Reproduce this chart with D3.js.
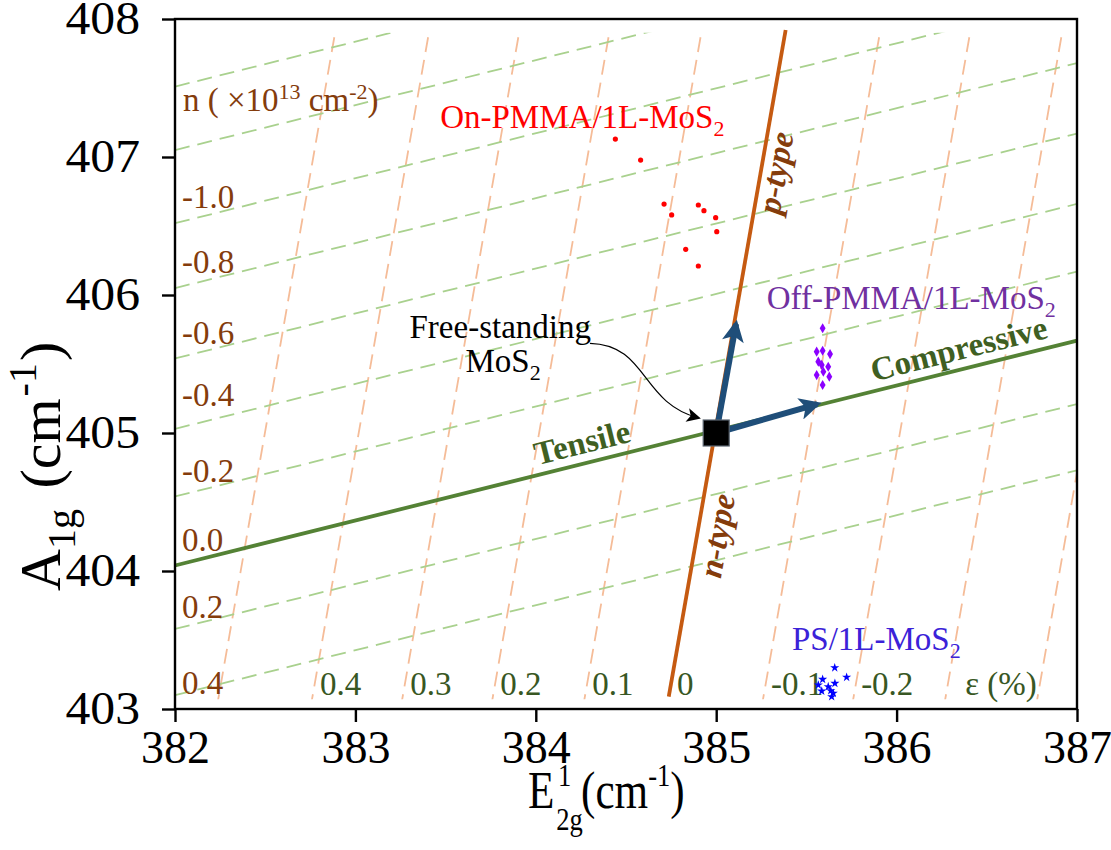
<!DOCTYPE html>
<html>
<head>
<meta charset="utf-8">
<script src="https://cdn.jsdelivr.net/npm/d3@7/dist/d3.min.js"></script>
<style>
body { margin: 0; background: #fff; }
text { font-family: "Liberation Serif", "Times New Roman", serif; }
</style>
</head>
<body>
<svg id="chart" width="1111" height="850"></svg>
<script>
// axis ticks
var xTicks = [382, 383, 384, 385, 386, 387];
var yTicks = [403, 404, 405, 406, 407, 408];

// the two reference lines (E, A) and the free-standing point
var strainLine = [[382, 404.04], [387, 405.67]];
var dopingLine = [[384.737, 403.09], [385.385, 407.92]];
var freeStanding = [385, 405];
var strainArrowTip = [385.56, 405.21];
var dopingArrowTip = [385.11, 405.79];

// iso-strain grid (E where each line meets A = 403), solid line included
var isoStrainE = [382.23, 382.75, 383.25, 383.75, 384.26, 384.73, 385.25, 385.75, 386.26, 386.77];
var strainLabels = ["", "0.4", "0.3", "0.2", "0.1", "0", "-0.1", "-0.2", "\u03b5 (%)", ""];

// iso-doping grid (A where each line meets E = 382), solid line included
var isoDopingA = [407.51, 407.05, 406.52, 406.05, 405.54, 405.03, 404.54, 404.04, 403.58, 403.10];
var dopingLabels = ["", "", "-1.0", "-0.8", "-0.6", "-0.4", "-0.2", "0.0", "0.2", "0.4"];

var onPMMA = [
  [384.441, 407.130], [384.581, 406.978], [384.711, 406.659], [384.753, 406.580],
  [384.901, 406.652], [384.932, 406.611], [384.997, 406.560], [385.003, 406.459],
  [384.831, 406.331], [384.901, 406.210]
];
var offPMMA = [
  [385.590, 405.759], [385.557, 405.589], [385.590, 405.596], [385.631, 405.572],
  [385.566, 405.517], [385.585, 405.493], [385.621, 405.480], [385.557, 405.420],
  [385.594, 405.444], [385.627, 405.408], [385.590, 405.348]
];
var psMoS2 = [
  [385.657, 403.299], [385.723, 403.230], [385.590, 403.215], [385.566, 403.174],
  [385.658, 403.186], [385.621, 403.162], [385.585, 403.130], [385.635, 403.133],
  [385.649, 403.114], [385.640, 403.089]
];

var margin = {left: 175, right: 34, top: 19, bottom: 141};
var W = 1111, H = 850;
var svg = d3.select("#chart");

var x = d3.scaleLinear().domain([382, 387]).range([margin.left, W - margin.right]);
var y = d3.scaleLinear().domain([403, 408]).range([H - margin.bottom, margin.top]);

var strainSlope = (strainLine[1][1] - strainLine[0][1]) / (strainLine[1][0] - strainLine[0][0]);
var dopingSlope = (dopingLine[1][1] - dopingLine[0][1]) / (dopingLine[1][0] - dopingLine[0][0]);

var defs = svg.append("defs");
defs.append("clipPath").attr("id", "gridclip")
  .append("rect")
  .attr("x", x(382)).attr("y", y(407.9))
  .attr("width", x(387) - x(382)).attr("height", y(403.07) - y(407.9));
defs.append("clipPath").attr("id", "plotclip")
  .append("rect")
  .attr("x", x(382)).attr("y", y(408))
  .attr("width", x(387) - x(382)).attr("height", y(403) - y(408));

function arrowMarker(id, color, w, h) {
  defs.append("marker")
    .attr("id", id)
    .attr("viewBox", "0 0 10 10")
    .attr("refX", 8).attr("refY", 5)
    .attr("markerUnits", "userSpaceOnUse")
    .attr("markerWidth", w).attr("markerHeight", h)
    .attr("orient", "auto")
    .append("path")
    .attr("d", "M0,0 L10,5 L0,10 L2.5,5 Z")
    .attr("fill", color);
}
arrowMarker("bluehead", "#1f4e79", 24, 22);
arrowMarker("blackhead", "#000", 16, 14);

// grid
var grid = svg.append("g").attr("clip-path", "url(#gridclip)");
grid.selectAll("line.iso-strain")
  .data(isoStrainE.filter(function(d, i) { return strainLabels[i] !== "0"; }))
  .enter().append("line")
  .attr("class", "iso-strain")
  .attr("x1", function(d) { return x(d); })
  .attr("y1", y(403))
  .attr("x2", function(d) { return x(d + 5 / dopingSlope); })
  .attr("y2", y(408))
  .attr("stroke", "#f5bc98")
  .attr("stroke-width", 1.8)
  .attr("stroke-dasharray", "15,8");

grid.selectAll("line.iso-doping")
  .data(isoDopingA.filter(function(d, i) { return dopingLabels[i] !== "0.0"; }))
  .enter().append("line")
  .attr("class", "iso-doping")
  .attr("x1", x(382))
  .attr("y1", function(d) { return y(d); })
  .attr("x2", x(387))
  .attr("y2", function(d) { return y(d + 5 * strainSlope); })
  .attr("stroke", "#a9d18e")
  .attr("stroke-width", 1.8)
  .attr("stroke-dasharray", "15,8");

// grid labels
var nLabelShift = {"-0.4": -8, "0.2": 4, "0.4": 14};
svg.append("g").selectAll("text")
  .data(isoDopingA.map(function(d, i) { return {a: d, t: dopingLabels[i]}; }).filter(function(d) { return d.t; }))
  .enter().append("text")
  .attr("x", x(382) + 7)
  .attr("y", function(d) { return y(d.a + 0.04 * strainSlope) - 13 + (nLabelShift[d.t] || 0); })
  .attr("font-size", 33)
  .attr("fill", "#843c0c")
  .text(function(d) { return d.t; });

var nTitle = svg.append("text")
  .attr("x", x(382) + 8).attr("y", 111)
  .attr("font-size", 33)
  .attr("fill", "#843c0c");
nTitle.append("tspan").text("n ( \u00d710");
nTitle.append("tspan").attr("font-size", 22).attr("dy", -12).text("13");
nTitle.append("tspan").attr("dy", 12).text(" cm");
nTitle.append("tspan").attr("font-size", 22).attr("dy", -12).text("-2");
nTitle.append("tspan").attr("dy", 12).text(")");

svg.append("g").selectAll("text")
  .data(isoStrainE.map(function(d, i) { return {e: d, t: strainLabels[i]}; }).filter(function(d) { return d.t; }))
  .enter().append("text")
  .attr("x", function(d) { return x(d.e + (403.15 - 403) / dopingSlope) + (d.t === "\u03b5 (%)" ? 18 : 6); })
  .attr("y", y(403.07) - 4)
  .attr("font-size", 33)
  .attr("fill", "#385723")
  .text(function(d) { return d.t; });

// solid reference lines
var line = d3.line().x(function(d) { return x(d[0]); }).y(function(d) { return y(d[1]); });
svg.append("path").datum(strainLine).attr("d", line)
  .attr("fill", "none").attr("stroke", "#548235").attr("stroke-width", 3.8);
svg.append("path").datum(dopingLine).attr("d", line)
  .attr("fill", "none").attr("stroke", "#c55a11").attr("stroke-width", 3.8);

// blue arrows
[strainArrowTip, dopingArrowTip].forEach(function(tip) {
  svg.append("line")
    .attr("x1", x(freeStanding[0])).attr("y1", y(freeStanding[1]))
    .attr("x2", x(tip[0])).attr("y2", y(tip[1]))
    .attr("stroke", "#1f4e79").attr("stroke-width", 6)
    .attr("marker-end", "url(#bluehead)");
});

// free-standing point
svg.append("rect")
  .attr("x", x(freeStanding[0]) - 13).attr("y", y(freeStanding[1]) - 13)
  .attr("width", 26).attr("height", 26)
  .attr("fill", "#000").attr("stroke", "#5a6470").attr("stroke-width", 1.2);

// line labels
function rotLabel(e, a, angle, txt, color, style) {
  svg.append("text")
    .attr("transform", "translate(" + x(e) + "," + y(a) + ") rotate(" + angle + ")")
    .attr("text-anchor", "middle")
    .attr("dominant-baseline", "central")
    .attr("font-size", 33)
    .attr("font-weight", "bold")
    .attr("font-style", style || "normal")
    .attr("fill", color)
    .text(txt);
}
var pxStrainAngle = Math.atan2(y(strainLine[1][1]) - y(strainLine[0][1]), x(strainLine[1][0]) - x(strainLine[0][0])) * 180 / Math.PI;
var pxDopingAngle = Math.atan2(y(dopingLine[1][1]) - y(dopingLine[0][1]), x(dopingLine[1][0]) - x(dopingLine[0][0])) * 180 / Math.PI;
rotLabel(385.33, 406.885, pxDopingAngle, "p-type", "#843c0c", "italic");
rotLabel(385.005, 404.255, pxDopingAngle, "n-type", "#843c0c", "italic");
rotLabel(386.345, 405.61, pxStrainAngle, "Compressive", "#3f5f22");
rotLabel(384.256, 404.93, pxStrainAngle, "Tensile", "#3f5f22");

// data points
var pts = svg.append("g").attr("clip-path", "url(#plotclip)");
pts.selectAll("circle.on").data(onPMMA).enter().append("circle")
  .attr("cx", function(d) { return x(d[0]); })
  .attr("cy", function(d) { return y(d[1]); })
  .attr("r", 2.6).attr("fill", "#ff0000");
pts.selectAll("path.off").data(offPMMA).enter().append("path")
  .attr("transform", function(d) { return "translate(" + x(d[0]) + "," + y(d[1]) + ")"; })
  .attr("d", d3.symbol().type(d3.symbolDiamond).size(30))
  .attr("fill", "#8b00ff");
pts.selectAll("path.ps").data(psMoS2).enter().append("path")
  .attr("transform", function(d) { return "translate(" + x(d[0]) + "," + y(d[1]) + ")"; })
  .attr("d", d3.symbol().type(d3.symbolStar).size(26))
  .attr("fill", "#0000ff");

// sample names
function subLabel(px, py, main, sub, color) {
  var t = svg.append("text").attr("x", px).attr("y", py).attr("font-size", 33).attr("fill", color);
  t.append("tspan").text(main);
  t.append("tspan").attr("font-size", 22).attr("dy", 8).text(sub);
  return t;
}
subLabel(x(383.47), y(407.21), "On-PMMA/1L-MoS", "2", "#ff0000");
subLabel(x(385.28), y(405.90), "Off-PMMA/1L-MoS", "2", "#7030a0");
subLabel(x(385.42), y(403.43), "PS/1L-MoS", "2", "#3b22d8");

svg.append("text").attr("x", x(383.30)).attr("y", y(405.69))
  .attr("font-size", 33).attr("fill", "#000").text("Free-standing");
subLabel(x(383.61), y(405.44), "MoS", "2", "#000");

// curved pointer to the free-standing point
var curve = [[384.30, 405.65], [384.62, 405.64], [384.58, 405.22], [384.90, 405.11]];
svg.append("path")
  .attr("d", "M" + x(curve[0][0]) + "," + y(curve[0][1]) +
    " C" + x(curve[1][0]) + "," + y(curve[1][1]) + " " +
    x(curve[2][0]) + "," + y(curve[2][1]) + " " +
    x(curve[3][0]) + "," + y(curve[3][1]))
  .attr("fill", "none").attr("stroke", "#000").attr("stroke-width", 1.2)
  .attr("marker-end", "url(#blackhead)");

// axes
var xAxis = svg.append("g")
  .attr("transform", "translate(0," + y(403) + ")")
  .call(d3.axisBottom(x).tickValues(xTicks).tickFormat(d3.format("d")).tickSize(13).tickPadding(8));
var yAxis = svg.append("g")
  .attr("transform", "translate(" + x(382) + ",0)")
  .call(d3.axisLeft(y).tickValues(yTicks).tickFormat(d3.format("d")).tickSize(13).tickPadding(22));
[xAxis, yAxis].forEach(function(g) {
  g.select(".domain").remove();
  g.selectAll("line").attr("stroke", "#000").attr("stroke-width", 2.4);
  g.selectAll("text").attr("font-size", 46).attr("fill", "#000");
});
yAxis.selectAll("text").attr("transform", "scale(1.08,1)").attr("x", -35 / 1.08);

svg.append("rect")
  .attr("x", x(382)).attr("y", y(408))
  .attr("width", x(387) - x(382)).attr("height", y(403) - y(408))
  .attr("fill", "none").attr("stroke", "#000").attr("stroke-width", 2.4);

// axis titles
var yTitle = svg.append("text")
  .attr("transform", "translate(60,591) rotate(-90)")
  .attr("font-size", 58).attr("fill", "#000");
yTitle.append("tspan").text("A");
yTitle.append("tspan").attr("font-size", 40).attr("dy", 15).text("1g");
yTitle.append("tspan").attr("dy", -15).attr("dx", 6).text(" (cm");
yTitle.append("tspan").attr("font-size", 40).attr("dy", -24).attr("dx", 2).text("-1");
yTitle.append("tspan").attr("dy", 24).attr("dx", 2).text(")");

var xTitle = svg.append("g").attr("transform", "translate(528,808) scale(0.83,1)");
xTitle.append("text").attr("font-size", 52).text("E");
xTitle.append("text").attr("x", 36).attr("y", -22).attr("font-size", 32).text("1");
xTitle.append("text").attr("x", 34).attr("y", 22).attr("font-size", 32).text("2g");
var xt = xTitle.append("text").attr("x", 64).attr("font-size", 52);
xt.append("tspan").text("(cm");
xt.append("tspan").attr("font-size", 32).attr("dy", -22).text("-1");
xt.append("tspan").attr("dy", 22).text(")");
</script>
</body>
</html>
